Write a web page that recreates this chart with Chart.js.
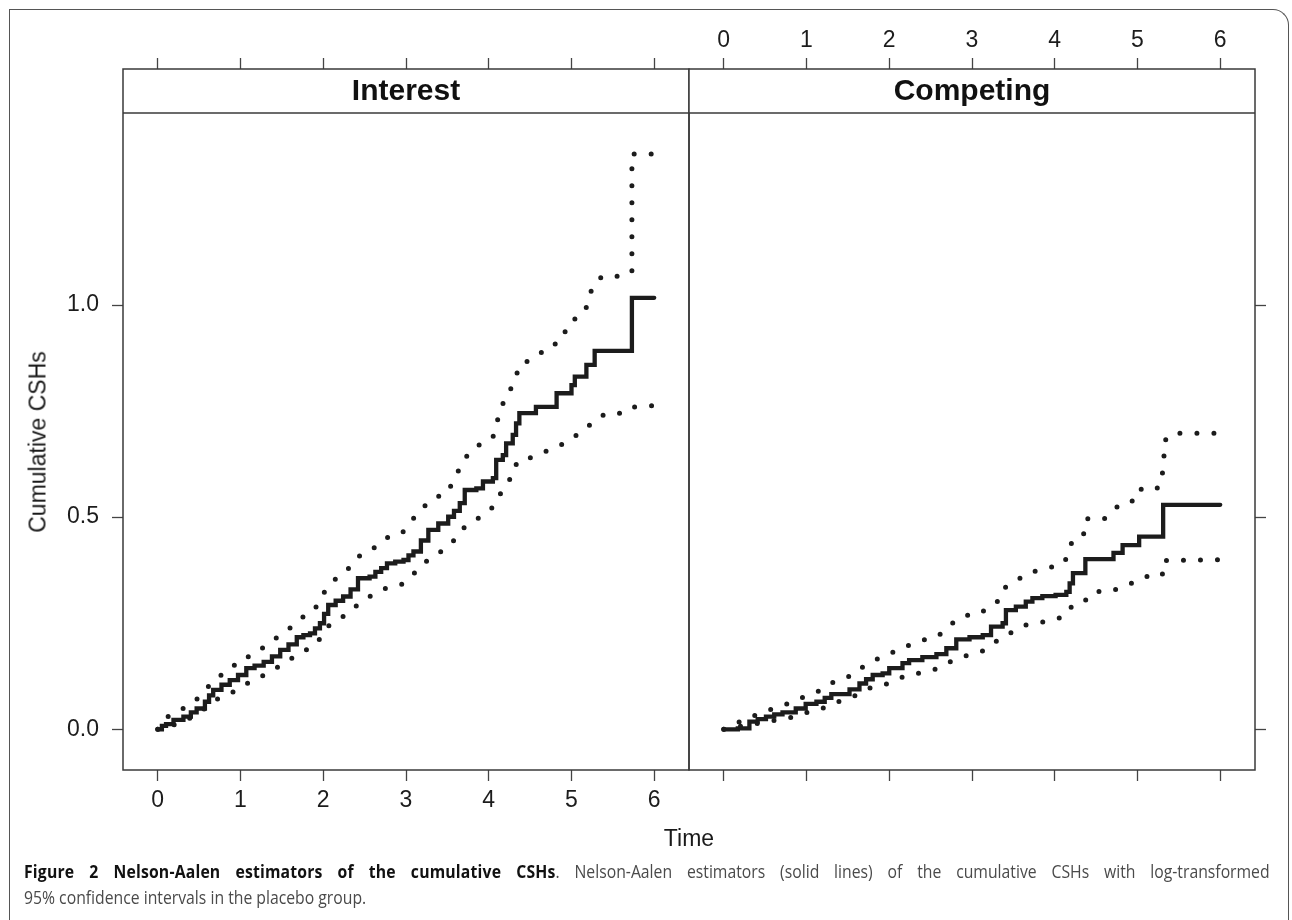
<!DOCTYPE html>
<html>
<head>
<meta charset="utf-8">
<title>Nelson-Aalen estimators of the cumulative CSHs</title>
<script src="https://cdn.jsdelivr.net/npm/chart.js@4.4.1/dist/chart.umd.min.js"></script>
<style>
  html, body { margin: 0; padding: 0; background: #fff; }
  #page { position: relative; width: 1292px; height: 920px; overflow: hidden; background: #fff;
          font-family: "Liberation Sans", Arial, Helvetica, sans-serif; color: #1a1a1a; }
  canvas { position: absolute; left: 0; top: 0; }
  #frame { position: absolute; left: 9px; top: 9px; width: 1280px; height: 940px;
           border: 1.5px solid #555; border-bottom: none; border-top-right-radius: 16px; box-sizing: border-box; }
  #ytitle { position: absolute; left: 38px; top: 442px; font-size: 23px; white-space: nowrap;
            transform: translate(-50%, -50%) rotate(-90deg); }
  #xtitle { position: absolute; left: 689px; top: 838px; font-size: 23px; transform: translate(-50%, -50%); }
  /* caption set slightly condensed */
  .cap { position: absolute; left: 24px; width: 1384px; font-family: "Open Sans", sans-serif;
         font-size: 17.5px; line-height: 20px; color: #4a4a4a; transform: scaleX(0.9); transform-origin: 0 0; }
  .cap b { color: #111; font-weight: 700; letter-spacing: 0.2px; }
  #cap1 { top: 861px; text-align: justify; text-align-last: justify; }
  #cap2 { top: 887px; }
</style>
</head>
<body>
<div id="page">
  <div id="frame"></div>
  <canvas id="interestChart" width="1292" height="920"></canvas>
  <canvas id="competingChart" width="1292" height="920"></canvas>
  <div id="ytitle">Cumulative CSHs</div>
  <div id="xtitle">Time</div>
  <div id="cap1" class="cap"><b>Figure 2 Nelson-Aalen estimators of the cumulative CSHs</b>. Nelson-Aalen estimators (solid lines) of the cumulative CSHs with log-transformed</div>
  <div id="cap2" class="cap">95% confidence intervals in the placebo group.</div>
</div>
<script>
// ---- panel names and axis ticks ----
const panelNames = ["Interest", "Competing"];
const timeTicks = [0, 1, 2, 3, 4, 5, 6];
const hazardTicks = [0, 0.5, 1.0];

// ---- "Interest" panel: Nelson-Aalen estimate (step function) ----
const interestTime = [0, 0.05, 0.10, 0.19, 0.31, 0.40, 0.47, 0.57, 0.62, 0.67, 0.77, 0.87, 0.97, 1.07, 1.17,
  1.28, 1.38, 1.48, 1.58, 1.68, 1.76, 1.84, 1.90, 1.96, 2.01, 2.06, 2.15, 2.24, 2.33, 2.42, 2.56, 2.63, 2.70,
  2.77, 2.87, 2.97, 3.03, 3.09, 3.18, 3.27, 3.39, 3.51, 3.58, 3.65, 3.71, 3.85, 3.93, 4.05, 4.09, 4.17, 4.21,
  4.29, 4.33, 4.37, 4.57, 4.82, 5.00, 5.04, 5.18, 5.28, 5.73, 6.00];
const interestNA = [0, 0.008, 0.012, 0.022, 0.030, 0.040, 0.049, 0.065, 0.080, 0.093, 0.105, 0.116, 0.128, 0.144, 0.150,
  0.159, 0.172, 0.187, 0.200, 0.217, 0.222, 0.226, 0.238, 0.250, 0.272, 0.293, 0.303, 0.313, 0.330, 0.356, 0.360, 0.371, 0.380,
  0.391, 0.395, 0.399, 0.410, 0.419, 0.445, 0.470, 0.485, 0.501, 0.515, 0.533, 0.564, 0.568, 0.584, 0.592, 0.635, 0.646, 0.674,
  0.694, 0.721, 0.745, 0.760, 0.792, 0.811, 0.831, 0.859, 0.892, 1.017, 1.017];

// ---- "Interest" panel: upper 95% limit ----
const interestUpperTime = [0, 0.08, 0.22, 0.34, 0.46, 0.57, 0.65, 0.77, 0.88, 1.03, 1.13, 1.27, 1.39, 1.51, 1.62,
  1.73, 1.86, 1.95, 2.02, 2.11, 2.22, 2.33, 2.42, 2.56, 2.67, 2.79, 2.95, 3.04, 3.13, 3.23, 3.34, 3.50, 3.56, 3.63,
  3.70, 3.79, 3.91, 4.05, 4.09, 4.14, 4.19, 4.27, 4.33, 4.37, 4.53, 4.65, 4.79, 4.85, 4.99, 5.05, 5.17, 5.21, 5.27,
  5.37, 5.57, 5.73, 5.73, 6.00];
const interestUpper = [0, 0.026, 0.038, 0.053, 0.069, 0.089, 0.112, 0.128, 0.148, 0.157, 0.179, 0.192, 0.210, 0.225, 0.242,
  0.262, 0.275, 0.298, 0.326, 0.348, 0.365, 0.383, 0.407, 0.418, 0.437, 0.454, 0.462, 0.484, 0.507, 0.527, 0.546, 0.556, 0.582, 0.608,
  0.635, 0.657, 0.674, 0.688, 0.720, 0.747, 0.779, 0.804, 0.831, 0.860, 0.872, 0.890, 0.902, 0.931, 0.943, 0.971, 0.987, 1.020, 1.047,
  1.068, 1.068, 1.077, 1.356, 1.356];

// ---- "Interest" panel: lower 95% limit ----
const interestLowerTime = [0, 0.16, 0.31, 0.44, 0.57, 0.67, 0.82, 0.96, 1.08, 1.22, 1.35, 1.49, 1.61, 1.73, 1.88,
  1.97, 2.04, 2.16, 2.29, 2.40, 2.51, 2.64, 2.79, 2.95, 3.06, 3.17, 3.26, 3.40, 3.55, 3.65, 3.70, 3.83, 3.94, 4.06,
  4.13, 4.20, 4.30, 4.34, 4.50, 4.64, 4.79, 4.93, 5.05, 5.17, 5.27, 5.42, 5.63, 5.73, 6.00];
const interestLower = [0, 0.008, 0.018, 0.032, 0.049, 0.067, 0.079, 0.093, 0.108, 0.120, 0.137, 0.150, 0.166, 0.182, 0.194,
  0.216, 0.240, 0.258, 0.271, 0.291, 0.307, 0.322, 0.335, 0.342, 0.362, 0.379, 0.399, 0.415, 0.440, 0.458, 0.475, 0.491, 0.507, 0.525,
  0.551, 0.578, 0.598, 0.631, 0.640, 0.652, 0.662, 0.676, 0.692, 0.708, 0.727, 0.745, 0.745, 0.759, 0.763];

// ---- "Competing" panel: Nelson-Aalen estimate (step function) ----
const competingTime = [0, 0.17, 0.31, 0.41, 0.51, 0.61, 0.71, 0.87, 0.99, 1.12, 1.22, 1.30, 1.52, 1.64, 1.72,
  1.80, 1.92, 2.00, 2.16, 2.24, 2.40, 2.57, 2.69, 2.81, 2.97, 3.13, 3.23, 3.37, 3.41, 3.53, 3.65, 3.73, 3.85, 4.01,
  4.14, 4.18, 4.22, 4.37, 4.71, 4.82, 5.02, 5.31, 6.00];
const competingNA = [0, 0.002, 0.018, 0.024, 0.030, 0.035, 0.040, 0.049, 0.060, 0.065, 0.074, 0.083, 0.094, 0.108, 0.118,
  0.128, 0.132, 0.144, 0.156, 0.163, 0.170, 0.177, 0.191, 0.212, 0.217, 0.222, 0.242, 0.250, 0.281, 0.289, 0.301, 0.309, 0.314, 0.317,
  0.324, 0.344, 0.368, 0.401, 0.416, 0.434, 0.454, 0.529, 0.529];

// ---- "Competing" panel: upper 95% limit ----
const competingUpperTime = [0, 0.14, 0.28, 0.42, 0.57, 0.73, 0.87, 1.02, 1.16, 1.29, 1.43, 1.59, 1.69, 1.83, 1.96,
  2.11, 2.25, 2.40, 2.57, 2.68, 2.79, 2.92, 3.10, 3.21, 3.34, 3.40, 3.53, 3.65, 3.80, 3.97, 4.12, 4.17, 4.23, 4.38,
  4.40, 4.61, 4.71, 4.82, 5.00, 5.05, 5.26, 5.30, 5.32, 5.32, 5.42, 6.00];
const competingUpper = [0, 0.013, 0.026, 0.036, 0.047, 0.057, 0.069, 0.080, 0.091, 0.108, 0.119, 0.130, 0.149, 0.163, 0.176,
  0.186, 0.199, 0.210, 0.217, 0.234, 0.255, 0.268, 0.272, 0.291, 0.305, 0.334, 0.349, 0.366, 0.375, 0.383, 0.393, 0.423, 0.452, 0.463,
  0.497, 0.497, 0.517, 0.535, 0.540, 0.569, 0.569, 0.601, 0.638, 0.678, 0.698, 0.698];

// ---- "Competing" panel: lower 95% limit ----
const competingLowerTime = [0, 0.35, 0.52, 0.69, 0.87, 1.01, 1.18, 1.32, 1.48, 1.62, 1.76, 1.92, 2.06, 2.21, 2.38,
  2.55, 2.69, 2.81, 2.98, 3.14, 3.26, 3.38, 3.51, 3.65, 3.82, 4.00, 4.14, 4.22, 4.37, 4.47, 4.67, 4.82, 4.96, 5.10,
  5.30, 5.31, 6.00];
const competingLower = [0, 0.012, 0.017, 0.024, 0.030, 0.040, 0.048, 0.061, 0.071, 0.082, 0.097, 0.103, 0.115, 0.127, 0.133,
  0.141, 0.155, 0.165, 0.177, 0.185, 0.203, 0.218, 0.232, 0.246, 0.252, 0.258, 0.269, 0.295, 0.304, 0.325, 0.325, 0.336, 0.347, 0.360,
  0.362, 0.398, 0.400];

// ---- drawing ----
const INK = '#1c1c1c';
const FRAME = '#3a3a3a';
const TICK_FONT = { family: '"Liberation Sans", Arial, Helvetica, sans-serif', size: 23 };

function toPoints(xs, ys) {
  return xs.map((x, i) => ({ x: x, y: ys[i] }));
}

// Draws the panel box and the strip holding the panel name.
const panelFrame = {
  id: 'panelFrame',
  afterDraw(chart, args, opts) {
    const { ctx, chartArea: a } = chart;
    const h = opts.stripHeight;
    ctx.save();
    ctx.fillStyle = '#fff';
    ctx.fillRect(a.left, a.top, a.right - a.left, h);
    ctx.strokeStyle = FRAME;
    ctx.lineWidth = 1.5;
    ctx.strokeRect(a.left, a.top, a.right - a.left, a.bottom - a.top);
    ctx.beginPath();
    ctx.moveTo(a.left, a.top + h);
    ctx.lineTo(a.right, a.top + h);
    ctx.stroke();
    ctx.fillStyle = '#111';
    ctx.font = 'bold 30px "Liberation Sans", Arial, Helvetica, sans-serif';
    ctx.textAlign = 'center';
    ctx.textBaseline = 'middle';
    ctx.fillText(opts.label, (a.left + a.right) / 2, a.top + h / 2 + 1);
    ctx.restore();
  }
};

function tickGrid() {
  return { display: true, drawOnChartArea: false, drawTicks: true, tickLength: 11, tickColor: '#444', tickWidth: 1.3 };
}

function timeAxis(position, showLabels, fitHeight, padding) {
  return {
    type: 'linear', position: position, min: -0.42, max: 6.42,
    afterBuildTicks: s => { s.ticks = timeTicks.map(v => ({ value: v })); },
    afterFit: s => { s.height = fitHeight; },
    ticks: { display: showLabels, padding: padding, color: INK, font: TICK_FONT, autoSkip: false,
             maxRotation: 0, minRotation: 0, callback: v => String(v) },
    grid: tickGrid(),
    border: { display: false }
  };
}

function hazardAxis(position, showLabels, fitWidth) {
  return {
    type: 'linear', position: position, min: -0.0959, max: 1.5562,
    afterBuildTicks: s => { s.ticks = hazardTicks.map(v => ({ value: v })); },
    afterFit: s => { s.width = fitWidth; },
    ticks: { display: showLabels, padding: 13, color: INK, font: TICK_FONT, autoSkip: false,
             callback: v => v.toFixed(1) },
    grid: tickGrid(),
    border: { display: false }
  };
}

function makePanel(canvasId, name, est, upper, lower, scales, padding) {
  const dotted = { borderColor: INK, borderWidth: 5, borderDash: [0, 17], borderCapStyle: 'round',
                   pointRadius: 0, tension: 0, fill: false };
  return new Chart(document.getElementById(canvasId), {
    type: 'line',
    data: {
      datasets: [
        Object.assign({ label: name + ' upper', data: upper }, dotted),
        Object.assign({ label: name + ' lower', data: lower }, dotted),
        { label: name, data: est, stepped: true, borderColor: INK, borderWidth: 4.3, borderCapStyle: 'round',
          borderJoinStyle: 'miter', pointRadius: 0, fill: false }
      ]
    },
    options: {
      responsive: false, animation: false, devicePixelRatio: 1,
      layout: { padding: padding, autoPadding: false },
      scales: scales,
      plugins: { legend: { display: false }, tooltip: { enabled: false },
                 panelFrame: { label: name, stripHeight: 44 } },
      events: []
    },
    plugins: [panelFrame]
  });
}

// Left panel: labels on the bottom and left axes.
makePanel('interestChart', panelNames[0],
  toPoints(interestTime, interestNA),
  toPoints(interestUpperTime, interestUpper),
  toPoints(interestLowerTime, interestLower),
  {
    x: timeAxis('bottom', true, 40, 6),
    xTop: timeAxis('top', false, 11, 4),
    y: hazardAxis('left', true, 60)
  },
  { left: 63, right: 603, top: 58, bottom: 110 });

// Right panel: labels on the top axis, bare ticks elsewhere.
makePanel('competingChart', panelNames[1],
  toPoints(competingTime, competingNA),
  toPoints(competingUpperTime, competingUpper),
  toPoints(competingLowerTime, competingLower),
  {
    x: timeAxis('bottom', false, 40, 6),
    xTop: timeAxis('top', true, 50, 4),
    y: hazardAxis('right', false, 12)
  },
  { left: 689, right: 25, top: 19, bottom: 110 });
</script>
</body>
</html>
